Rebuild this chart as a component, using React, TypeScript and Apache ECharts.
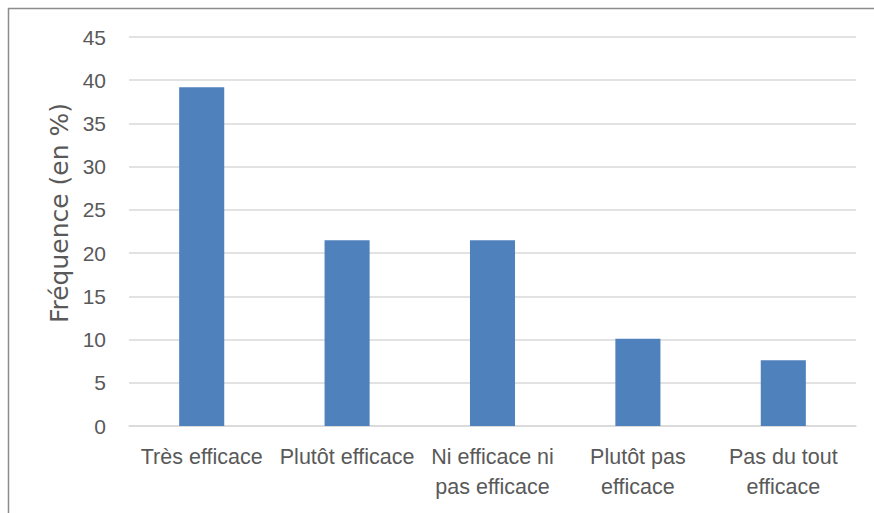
import React, { useEffect, useRef } from "react";
import * as echarts from "echarts";

const categories = [
  "Très efficace",
  "Plutôt efficace",
  "Ni efficace ni\npas efficace",
  "Plutôt pas\nefficace",
  "Pas du tout\nefficace",
];
const values = [39.2, 21.5, 21.5, 10.1, 7.6];
const yTicks = { min: 0, max: 45, interval: 5 };
const yName = "Fréquence (en %)";

export default function App() {
  const ref = useRef<HTMLDivElement>(null);
  useEffect(() => {
    document.body.style.margin = "0";
    const chart = echarts.init(ref.current!, null, { renderer: "svg" });
    const font = "'Liberation Sans', sans-serif";
    chart.setOption({
      animation: false,
      backgroundColor: "#ffffff",
      textStyle: { fontFamily: font },
      grid: { left: 129, right: 18, top: 37, bottom: 87 },
      graphic: [
        {
          type: "rect",
          shape: { x: 8.5, y: 8.5, width: 900, height: 600 },
          style: { fill: "none", stroke: "#8c8c8c", lineWidth: 1.5 },
          silent: true,
        },
        {
          type: "text",
          x: 59,
          y: 213,
          rotation: Math.PI / 2,
          style: {
            text: yName,
            fill: "#595959",
            font: "25px 'DejaVu Sans', sans-serif",
            align: "center",
            verticalAlign: "middle",
          },
          silent: true,
        },
      ],
      xAxis: {
        type: "category",
        data: categories,
        axisLine: { show: true, lineStyle: { color: "#d9d9d9", width: 1.5 } },
        axisTick: { show: false },
        axisLabel: {
          color: "#595959",
          fontSize: 21.5,
          fontFamily: font,
          margin: 16,
          lineHeight: 30,
          interval: 0,
        },
      },
      yAxis: {
        type: "value",
        min: yTicks.min,
        max: yTicks.max,
        interval: yTicks.interval,
        axisLine: { show: false },
        axisTick: { show: false },
        axisLabel: { color: "#595959", fontSize: 21, fontFamily: font, margin: 23 },
        splitLine: { lineStyle: { color: "#d9d9d9", width: 1.5 } },
      },
      series: [
        {
          type: "bar",
          data: values,
          barWidth: "31%",
          itemStyle: { color: "#4f81bd" },
        },
      ],
    });
    return () => chart.dispose();
  }, []);
  return <div ref={ref} style={{ width: 874, height: 513 }} />;
}
